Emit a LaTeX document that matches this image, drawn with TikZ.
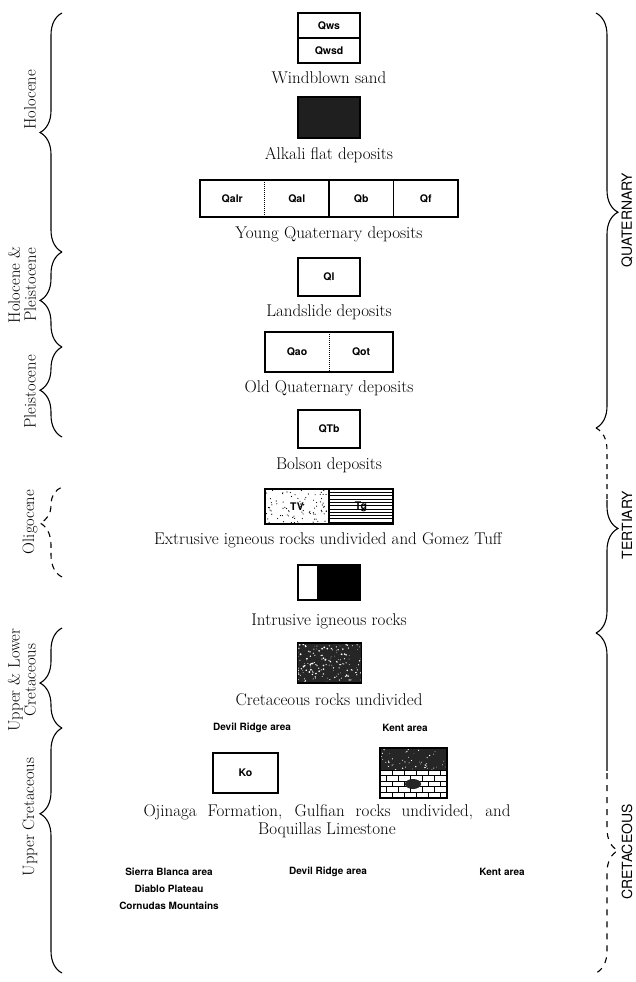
\documentclass[tikz,border=0pt]{standalone}
\usepackage{fontspec}
\newfontfamily\herosfam{TeX Gyre Heros}
\usepackage{tikz}
\usetikzlibrary{decorations.pathreplacing, calc, positioning, patterns}

\newcommand\lgcap{\fontsize{17}{18}\selectfont}
\newcommand\lgunit{\herosfam\bfseries\fontsize{10.5}{12}\selectfont}
\newcommand\lgarea{\herosfam\bfseries\fontsize{10}{17}\selectfont}
\newcommand\lgepoch{\fontsize{16.5}{16}\selectfont}
\newcommand\lgperiod{\herosfam\fontsize{14}{15}\selectfont}

\begin{document}
\begin{tikzpicture}[x=1pt, y=-1pt,
    cell/.style={inner sep=0pt, outer sep=0pt, font=\lgunit},
    unitbox/.style={cell, draw, line width=1.4pt},
    capt/.style={inner sep=0pt, font=\lgcap},
    area/.style={inner sep=0pt, font=\lgarea, align=center},
    epoch/.style={inner sep=0pt, font=\lgepoch, rotate=90, align=center},
    period/.style={inner sep=0pt, font=\lgperiod, rotate=90},
    timebrace/.style={decorate, decoration={brace, amplitude=22pt, aspect=#1}, line width=1.1pt},
    timebrace/.default=0.5]
    \useasboundingbox (0,0) rectangle (635,982);

    % map units
    \node[unitbox, minimum width=62pt, minimum height=25pt] at (329,25.5) (qws) {Qws};
    \node[unitbox, minimum width=62pt, minimum height=25pt, below=0pt of qws] (qwsd) {Qwsd};
    \node[unitbox, fill=black!88, minimum width=62pt, minimum height=41pt] at (329,117.5) (qaf) {};

    \node[cell, minimum width=64.5pt, minimum height=37pt] at (232.25,198.5) (qalr) {Qalr};
    \node[cell, minimum width=64.5pt, minimum height=37pt, right=0pt of qalr] (qal) {Qal};
    \node[cell, minimum width=64.5pt, minimum height=37pt, right=0pt of qal] (qb) {Qb};
    \node[cell, minimum width=64.5pt, minimum height=37pt, right=0pt of qb] (qf) {Qf};
    \draw[line width=1.4pt] (qalr.north west) rectangle (qf.south east);
    \draw[densely dotted, line width=1pt] (qalr.north east) -- (qalr.south east);
    \draw[line width=1.4pt] (qal.north east) -- (qal.south east);
    \draw[line width=1.4pt] (qb.north east) -- (qb.south east);

    \node[unitbox, minimum width=62pt, minimum height=38pt] at (329,277) (ql) {Ql};

    \node[cell, minimum width=64pt, minimum height=40pt] at (297,352) (qao) {Qao};
    \node[cell, minimum width=64pt, minimum height=40pt, right=0pt of qao] (qot) {Qot};
    \draw[line width=1.4pt] (qao.north west) rectangle (qot.south east);
    \draw[densely dotted, line width=1pt] (qao.north east) -- (qao.south east);

    \node[unitbox, minimum width=62pt, minimum height=38pt] at (329,429) (qtb) {QTb};

    \node[unitbox, minimum width=64pt, minimum height=35pt,
        path picture={
            \pgfmathsetseed{3}
            \foreach \i in {1,...,90}
                \fill ($(path picture bounding box.north west)+(rnd*64, rnd*35)$) circle (0.6pt);
        }] at (297,506.5) (tv) {TV};
    \node[unitbox, minimum width=64pt, minimum height=35pt, right=0pt of tv,
        path picture={
            \foreach \k in {1,...,10}
                \draw[line width=0.6pt] ($(path picture bounding box.north west)+(0,\k*3.3)$) -- ++(64,0);
        }] (tg) {Tg};

    \node[unitbox, minimum width=20pt, minimum height=35pt] at (308,582.5) (tiw) {};
    \node[unitbox, fill=black, minimum width=42pt, minimum height=35pt, right=0pt of tiw] (tib) {};

    \node[unitbox, fill=black!85, minimum width=64pt, minimum height=40pt,
        path picture={
            \pgfmathsetseed{11}
            \foreach \i in {1,...,160}
                \fill[white] ($(path picture bounding box.north west)+(rnd*64, rnd*40)$) circle ({0.3+0.7*rnd});
        }] at (329.5,663) (ku) {};

    \node[unitbox, minimum width=65pt, minimum height=40pt] at (245.5,773) (ko) {Ko};
    \node[unitbox, fill=black!85, minimum width=67pt, minimum height=50pt,
        path picture={
            \pgfmathsetseed{5}
            \foreach \i in {1,...,50}
                \fill[white] ($(path picture bounding box.north west)+(rnd*67, rnd*22)$) circle ({0.3+0.5*rnd});
            \fill[white] ($(path picture bounding box.north west)+(0,22)$) rectangle (path picture bounding box.south east);
            \foreach \r in {0,...,4} {
                \draw[line width=0.8pt] ($(path picture bounding box.north west)+(0,22+\r*5.6)$) -- ++(67,0);
                \foreach \c in {0,...,5}
                    \draw[line width=0.8pt] ($(path picture bounding box.north west)+({\c*12+mod(\r,2)*6},22+\r*5.6)$) -- ++(0,5.6);
            }
            \fill[black!85] ($(path picture bounding box.north west)+(33,36)$) ellipse (8 and 5);
        }] at (413.5,773) (kbo) {};

    % captions
    \node[capt] at (329,78) (capws) {Windblown sand};
    \node[capt] at (329,155) (capqaf) {Alkali flat deposits};
    \node[capt] at (329,234) (capyq) {Young Quaternary deposits};
    \node[capt] at (329,312) (capql) {Landslide deposits};
    \node[capt] at (329,388) (capoq) {Old Quaternary deposits};
    \node[capt] at (329,465) (capqtb) {Bolson deposits};
    \node[capt] at (328,540) (capext) {Extrusive igneous rocks undivided and Gomez Tuff};
    \node[capt] at (329,621) (capint) {Intrusive igneous rocks};
    \node[capt] at (329,700) (capku) {Cretaceous rocks undivided};
    \node[capt, align=center] at (327,821) (capko)
        {\makebox[367pt][s]{Ojinaga Formation, Gulfian rocks undivided, and}\\Boquillas Limestone};

    % areas
    \node[area] at (252,728) (drtop) {Devil Ridge area};
    \node[area] at (405,728) (kenttop) {Kent area};
    \node[area] at (169,889) (sbarea) {Sierra Blanca area\\Diablo Plateau\\Cornudas Mountains};
    \node[area] at (328,872) (drbot) {Devil Ridge area};
    \node[area] at (502,872) (kentbot) {Kent area};

    % epochs
    \node[epoch] at (30,100) (holo) {Holocene};
    \node[epoch] at (22,285) (holple) {Holocene \&\\Pleistocene};
    \node[epoch] at (30,392) (pleis) {Pleistocene};
    \node[epoch] at (30,522) (oligo) {Oligocene};
    \node[epoch] at (22,680) (ulcret) {Upper \& Lower\\Cretaceous};
    \node[epoch] at (30,817) (ucret) {Upper Cretaceous};

    % periods
    \node[period] at (627,220) (quat) {QUATERNARY};
    \node[period] at (627,525) (tert) {TERTIARY};
    \node[period] at (627,852) (cret) {CRETACEOUS};

    % braces
    \coordinate (e0) at (62,13);
    \coordinate (e1) at (62,252);
    \coordinate (e2) at (62,347);
    \coordinate (e3) at (62,437);
    \coordinate (e4) at (62,487);
    \coordinate (e5) at (62,577);
    \coordinate (e6) at (62,628);
    \coordinate (e7) at (62,728);
    \coordinate (e8) at (62,973);
    \coordinate (p0) at (596,13);
    \coordinate (p1) at (596,428);
    \coordinate (p2) at (596,633);
    \coordinate (p3) at (596,973);

    \draw[timebrace=0.5] (e1) -- (e0);
    \draw[timebrace=0.49] (e2) -- (e1);
    \draw[timebrace=0.52] (e3) -- (e2);
    \draw[timebrace=0.6, dash pattern=on 6pt off 5pt] (e5) -- (e4);
    \draw[timebrace=0.45] (e7) -- (e6);
    \draw[timebrace=0.65] (e8) -- (e7);

    \draw[timebrace=0.48] (p0) -- (p1);
    \begin{scope}
        \clip (560,420) rectangle (635,500);
        \draw[timebrace=0.49, dash pattern=on 5pt off 5pt] (p1) -- (p2);
    \end{scope}
    \begin{scope}
        \clip (560,500) rectangle (635,640);
        \draw[timebrace=0.49] (p1) -- (p2);
    \end{scope}
    \begin{scope}
        \clip (560,625) rectangle (635,770);
        \draw[timebrace=0.64] (p2) -- (p3);
    \end{scope}
    \begin{scope}
        \clip (560,770) rectangle (635,982);
        \draw[timebrace=0.64, dash pattern=on 6pt off 6pt] (p2) -- (p3);
    \end{scope}
\end{tikzpicture}
\end{document}
